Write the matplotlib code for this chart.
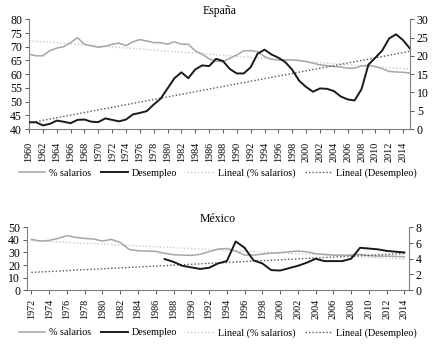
import numpy as np
import matplotlib

matplotlib.use("Agg")
import matplotlib.pyplot as plt
from matplotlib.lines import Line2D

plt.rcParams["font.family"] = ["Liberation Serif", "DejaVu Serif"]

# España, 1960-2015
es_years = list(range(1960, 2016))
es_salarios = [
    67.3, 66.7, 66.7, 68.6, 69.5, 70.0, 71.5, 73.3, 70.9, 70.3,
    69.8, 70.2, 70.9, 71.3, 70.4, 71.8, 72.6, 72.1, 71.5, 71.5,
    70.9, 71.8, 70.9, 70.9, 68.5, 67.3, 65.6, 64.8, 64.6, 65.8,
    67.0, 68.5, 68.6, 68.2, 66.4, 65.4, 65.2, 65.2, 65.2, 65.0,
    64.6, 64.0, 63.4, 63.1, 62.8, 62.6, 62.2, 62.2, 63.0, 63.2,
    62.8, 62.0, 61.0, 60.8, 60.7, 60.4,
]
es_desempleo = [
    1.85, 1.85, 1.0, 1.4, 2.3, 2.0, 1.6, 2.5, 2.6, 2.0,
    1.9, 2.9, 2.5, 2.1, 2.6, 4.0, 4.4, 4.9, 6.7, 8.3,
    11.1, 13.9, 15.5, 13.9, 16.3, 17.4, 17.2, 19.2, 18.6, 16.4,
    15.2, 15.2, 16.9, 20.6, 21.7, 20.4, 19.5, 18.3, 16.2, 13.2,
    11.5, 10.2, 11.1, 11.0, 10.4, 8.9, 8.1, 7.8, 10.9, 17.6,
    19.5, 21.5, 24.8, 25.9, 24.3, 22.0,
]

# México, 1972-2014 (desempleo desde 1987)
mx_years = list(range(1972, 2015))
mx_salarios = [
    40.4, 39.1, 39.6, 41.2, 43.4, 42.0, 41.2, 40.7, 39.1, 40.4,
    38.0, 32.4, 31.4, 31.1, 30.9, 29.3, 28.2, 27.9, 27.7, 28.5,
    30.6, 32.7, 33.2, 31.1, 27.9, 27.9, 28.7, 29.5, 29.8, 30.6,
    31.1, 30.6, 29.0, 28.5, 27.9, 27.9, 27.9, 28.5, 27.4, 27.1,
    27.1, 26.9, 26.6,
]
mx_des_years = list(range(1987, 2015))
mx_desempleo = [
    3.96, 3.6, 3.1, 2.9, 2.7, 2.85, 3.4, 3.7, 6.2, 5.4,
    3.8, 3.4, 2.55, 2.5, 2.8, 3.1, 3.5, 4.0, 3.7, 3.7,
    3.7, 4.0, 5.4, 5.3, 5.2, 5.0, 4.9, 4.8,
]

LABELS = ["% salarios", "Desempleo", "Lineal (% salarios)", "Lineal (Desempleo)"]
GRAY = "#a6a6a6"
DARK = "#1a1a1a"
FS = 8.5
FS_SMALL = 7.3


def trend(x, y, x_out):
    coef = np.polyfit(x, y, 1)
    return np.polyval(coef, x_out)


def style_axes(ax, ax2, xpad):
    for a in (ax, ax2):
        a.spines["top"].set_visible(False)
        a.tick_params(axis="y", labelsize=FS, length=3, width=0.6, colors="#404040",
                      labelcolor="black", pad=2)
    ax.tick_params(axis="x", labelsize=FS_SMALL, length=3, width=0.6, colors="#404040",
                   labelcolor="black", pad=xpad)
    ax.spines["right"].set_visible(False)
    ax2.spines["left"].set_visible(False)
    for s in ("left", "bottom"):
        ax.spines[s].set_color("#7f7f7f")
    ax2.spines["right"].set_color("#7f7f7f")
    ax2.spines["bottom"].set_visible(False)


def panel(fig, rect, title, years, sal, des_years, des, ylim_l, yticks_l, ylim_r, yticks_r,
          xlim, xticks, xpad):
    ax = fig.add_axes(rect)
    ax2 = ax.twinx()
    years = np.asarray(years)
    ax.plot(years, sal, color=GRAY, lw=1.1, zorder=3)
    ax.plot(years, trend(years, sal, years), color="#c8c8c8", lw=1.0, ls=(0, (1, 1.5)), zorder=2)
    ax2.plot(des_years, des, color=DARK, lw=1.4, zorder=3)
    ax2.plot(years, trend(des_years, des, years), color="#555555", lw=1.0, ls=(0, (1, 1.5)), zorder=2)
    ax.set_ylim(*ylim_l)
    ax.set_yticks(yticks_l)
    ax2.set_ylim(*ylim_r)
    ax2.set_yticks(yticks_r)
    ax.set_xlim(*xlim)
    ax.set_xticks(xticks)
    ax.set_xticklabels([str(t) for t in xticks], rotation=90)
    ax.set_title(title, fontsize=FS, pad=4)
    style_axes(ax, ax2, xpad)
    return ax


def legend(fig, y):
    handles = [
        Line2D([], [], color=GRAY, lw=1.1),
        Line2D([], [], color=DARK, lw=1.4),
        Line2D([], [], color="#c8c8c8", lw=1.0, ls=(0, (1, 1.5))),
        Line2D([], [], color="#555555", lw=1.0, ls=(0, (1, 1.5))),
    ]
    fig.legend(handles, LABELS, loc="center", bbox_to_anchor=(0.5, y), ncol=4, frameon=False,
               fontsize=FS_SMALL, handlelength=2.6, handletextpad=0.4, columnspacing=1.0)


fig = plt.figure(figsize=(4.35, 3.45), dpi=100)

panel(fig, [0.0667, 0.626, 0.8758, 0.318], "España", es_years, es_salarios, es_years, es_desempleo,
      (40, 80), range(40, 81, 5), (0, 30), range(0, 31, 5), (1960, 2015),
      list(range(1960, 2015, 2)), 6)
legend(fig, 0.498)

panel(fig, [0.062, 0.159, 0.878, 0.182], "México", mx_years, mx_salarios, mx_des_years, mx_desempleo,
      (0, 50), range(0, 51, 10), (0, 8), range(0, 9, 2), (1971.5, 2014.5),
      list(range(1972, 2015, 2)), 3)
legend(fig, 0.035)

fig.savefig("out.png", dpi=100)
